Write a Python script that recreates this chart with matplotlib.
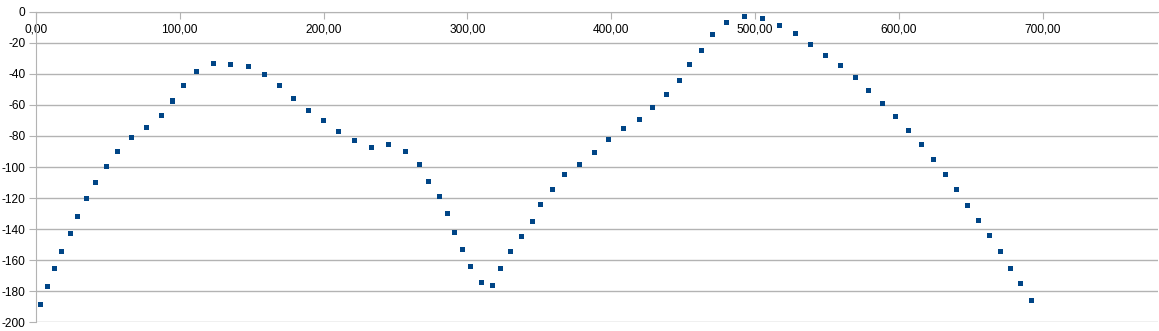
import matplotlib
matplotlib.use("Agg")
import matplotlib.pyplot as plt
from matplotlib.ticker import FuncFormatter

x_vals = [3.1, 7.8, 12.7, 18.0, 23.8, 29.3, 35.4, 41.6, 49.0, 57.1,
          66.2, 76.8, 87.3, 95.2, 102.8, 111.9, 123.2, 135.2, 147.7, 159.1,
          169.6, 179.0, 189.5, 199.9, 210.6, 221.7, 233.0, 245.3, 256.9, 266.6,
          273.2, 280.8, 286.4, 290.7, 296.5, 302.1, 310.0, 317.6, 323.2, 329.9,
          337.5, 345.4, 351.0, 359.1, 367.7, 377.9, 388.3, 398.0, 408.2, 419.6,
          428.9, 438.3, 447.4, 454.3, 462.7, 470.3, 480.3, 492.4, 505.1, 516.7,
          528.0, 538.7, 549.2, 559.6, 569.7, 579.0, 588.8, 597.8, 606.9, 615.6,
          624.0, 632.3, 640.2, 647.6, 655.2, 662.9, 670.3, 677.3, 684.7, 691.9]
y_vals = [-188.7, -177.1, -165.5, -154.1, -143.0, -131.8, -120.6, -109.7, -99.6, -89.7,
          -81.1, -74.4, -67.0, -57.5, -47.4, -38.6, -33.2, -33.9, -35.2, -40.3,
          -47.6, -55.8, -63.3, -69.9, -77.0, -82.8, -87.6, -85.6, -90.3, -98.5,
          -109.2, -118.9, -130.1, -141.9, -153.0, -164.2, -174.3, -176.4, -165.2, -154.7,
          -144.9, -135.0, -124.0, -114.4, -104.9, -98.1, -90.8, -82.6, -75.5, -69.5,
          -61.6, -53.4, -44.2, -33.9, -24.7, -14.6, -6.8, -3.2, -4.3, -8.6,
          -14.1, -21.0, -27.9, -34.8, -42.5, -50.6, -59.0, -67.6, -76.4, -85.6,
          -95.0, -104.7, -114.4, -124.7, -134.6, -144.4, -154.7, -165.2, -175.3, -185.8]

x_ticks = [0, 100, 200, 300, 400, 500, 600, 700]
y_ticks = list(range(-200, 1, 20))

plt.rcParams['font.family'] = ['Liberation Sans', 'DejaVu Sans']

fig = plt.figure(figsize=(11.59, 3.31), dpi=100)
ax = fig.add_axes([35.8 / 1159, 1 - 322.3 / 331, (1158 - 35.8) / 1159, (322.3 - 11.7) / 331])

grid_c = '#b3b3b3'
ax.set_xlim(0, 780)
ax.set_ylim(-200, 0)
ax.set_yticks(y_ticks)
ax.set_xticks(x_ticks)
ax.xaxis.set_major_formatter(FuncFormatter(lambda v, p: f"{v:.2f}".replace('.', ',')))
ax.yaxis.set_major_formatter(FuncFormatter(lambda v, p: f"{int(v)}"))

ax.grid(axis='y', color=grid_c, linewidth=1.0, zorder=0)
ax.set_axisbelow(True)

for s in ['top', 'right']:
    ax.spines[s].set_visible(False)
ax.spines['bottom'].set_position(('data', 0))
ax.spines['bottom'].set_color(grid_c)
ax.spines['left'].set_color(grid_c)

ax.tick_params(axis='x', direction='out', length=5, color=grid_c, labelsize=8.6, pad=3.5, labelcolor='#000000')
ax.tick_params(axis='y', direction='out', length=5, color=grid_c, labelsize=8.6, pad=2.5, labelcolor='#000000')

ax.scatter(x_vals, y_vals, marker='s', s=13, color='#004586', edgecolors='none', zorder=3, clip_on=False)

fig.savefig('out.png', dpi=100)
